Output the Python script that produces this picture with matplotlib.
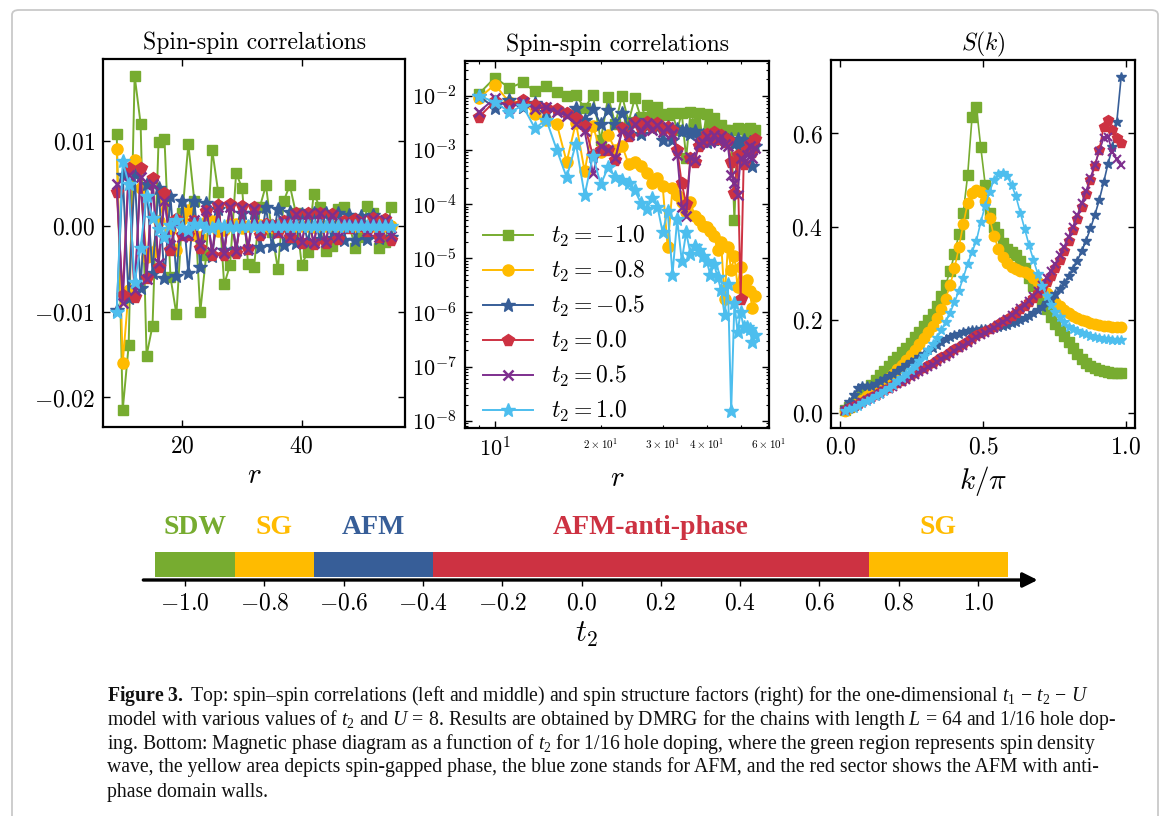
import numpy as np
import matplotlib
matplotlib.use("Agg")
import matplotlib.pyplot as plt
from matplotlib.ticker import LogLocator, NullFormatter, FixedLocator, FuncFormatter
from matplotlib.patches import FancyBboxPatch

plt.rcParams.update({
    "font.family": "serif",
    "font.serif": ["cmr10"],
    "mathtext.fontset": "cm",
    "axes.formatter.use_mathtext": True,
    "mathtext.rm": "Liberation Serif",
    "mathtext.it": "Liberation Serif:italic",
    "mathtext.bf": "Liberation Serif:bold",
})

# ---------------------------------------------------------------- data
t2_labels = [r"$t_2=-1.0$", r"$t_2=-0.8$", r"$t_2=-0.5$",
             r"$t_2=0.0$", r"$t_2=0.5$", r"$t_2=1.0$"]

distance = list(range(9, 56))

corr_m10 = [0.0108, -0.0215, -0.0139, 0.0176, 0.0120, -0.0151, -0.0116, 0.0098,
            0.0102, -0.0059, -0.0103, 0.0015, 0.0096, 0.0030, -0.0100, -0.0033,
            0.0089, 0.0040, -0.0068, -0.0045, 0.0062, 0.0045, -0.0044, -0.0048,
            0.0023, 0.0048, -0.0007, -0.0050, 0.0030, 0.0048, 0.0016, -0.0045,
            -0.0030, 0.0038, 0.0023, -0.0029, -0.0023, 0.0020, 0.0023, -0.00005,
            -0.0025, -0.0012, 0.0024, 0.0015, -0.0025, -0.0018, 0.0023]
corr_m08 = [9.0e-3, -1.6e-2, -7.5e-3, 7.8e-3, 4.5e-3, -3.6e-3, -3.0e-3, 6.0e-4,
            3.2e-3, -4.0e-4, -2.8e-3, 9.0e-4, 1.9e-3, -1.0e-3, -1.2e-3, 5.5e-4,
            6.0e-4, -5.0e-4, -3.8e-4, 2.5e-4, 3.0e-4, -2.2e-4, -1.6e-5, 2.0e-4,
            1.5e-4, -1.1e-4, -7.0e-5, 1.1e-4, 6.0e-5, -5.0e-5, -4.0e-5, 3.7e-5,
            3.2e-5, -2.6e-5, -1.4e-5, 2.0e-5, 1.8e-6, -1.6e-5, -6.0e-6, 1.1e-5,
            3.0e-6, -7.0e-6, -2.5e-6, 4.0e-6, 2.5e-6, -1.2e-6, -2.0e-6]
corr_m05 = [-9.8e-3, 6.0e-3, -8.4e-3, 6.1e-3, -7.2e-3, 5.0e-3, -5.5e-3, 4.5e-3,
            -6.0e-3, 3.5e-3, -5.8e-3, 3.0e-3, -5.5e-3, 3.0e-3, -4.7e-3, 2.7e-3,
            -3.5e-3, 2.0e-3, -2.8e-3, 2.5e-3, -2.7e-3, 1.5e-3, -2.7e-3, 1.5e-3,
            -2.4e-3, 2.2e-3, -2.3e-3, 2.0e-3, -2.2e-3, 1.7e-3, -1.9e-3, 1.4e-3,
            -1.8e-3, 1.6e-3, -1.5e-3, 1.6e-3, -1.4e-3, 1.5e-3, -1.6e-3, 1.3e-3,
            -1.6e-3, 1.2e-3, -1.5e-3, 1.3e-3, -1.4e-3, 5.0e-4, -1.2e-3]
corr_p00 = [4.0e-3, -8.0e-3, 6.8e-3, -8.3e-3, 6.8e-3, -6.0e-3, 5.7e-3, -4.7e-3,
            3.9e-3, -2.8e-3, 8.0e-4, -1.0e-3, -1.0e-3, 6.5e-4, -2.5e-3, 1.8e-3,
            -3.3e-3, 2.5e-3, -3.3e-3, 2.6e-3, -3.1e-3, 2.4e-3, -2.7e-3, 2.3e-3,
            -1.0e-3, 2.4e-4, 1.0e-4, -7.0e-4, 6.0e-4, -1.2e-3, 1.5e-3, -2.0e-3,
            1.6e-3, -2.1e-3, 1.6e-3, -1.9e-3, 1.4e-3, -1.5e-3, 6.0e-4, -1.6e-4,
            8.0e-4, 1.8e-6, -5.5e-4, 1.0e-3, -1.3e-3, 9.0e-4, -1.6e-3]
corr_p05 = [5.0e-3, -9.0e-3, 6.0e-3, -7.5e-3, 5.8e-3, -6.2e-3, 5.0e-3, -4.3e-3,
            3.0e-3, -2.2e-3, 3.7e-4, -1.2e-3, -1.0e-3, 7.0e-4, -2.2e-3, 1.9e-3,
            -3.0e-3, 2.2e-3, -3.1e-3, 2.3e-3, -2.9e-3, 2.1e-3, -2.6e-3, 2.0e-3,
            -8.0e-4, 9.0e-5, 6.0e-5, -7.5e-4, 6.5e-4, -1.3e-3, 1.4e-3, -1.8e-3,
            1.4e-3, -1.9e-3, 1.5e-3, -1.8e-3, 1.3e-3, -1.2e-3, 3.5e-4, -2.5e-4,
            1.5e-4, 7.0e-4, -6.0e-4, 8.0e-4, -1.2e-3, 7.0e-4, -1.1e-3]
corr_p10 = [-1.0e-2, 7.6e-3, 5.0e-3, -6.5e-3, -2.5e-3, 3.6e-3, 1.0e-3, -3.1e-4,
            -1.3e-3, 1.45e-4, 7.8e-4, -2.3e-4, -4.8e-4, 3.2e-4, 2.8e-4, -2.4e-4,
            -1.8e-4, 1.05e-4, 8.0e-5, -1.3e-4, -9.0e-5, 3.0e-5, 7.5e-5, -5.0e-6,
            -5.3e-5, 9.0e-6, 3.0e-5, -1.2e-5, -1.7e-5, 1.4e-5, 1.1e-5, -9.0e-6,
            -5.0e-6, 7.8e-6, 4.5e-6, -2.6e-6, -9.0e-7, 3.4e-6, 1.5e-8, -1.5e-6,
            -4.4e-7, 1.0e-6, 5.4e-7, -5.4e-7, -5.0e-7, 2.8e-7, 3.8e-7]

momentum_index = list(range(1, 65))
sk_m10 = [0.005, 0.012, 0.02, 0.03, 0.04, 0.05, 0.06, 0.07, 0.08, 0.09,
          0.10, 0.11, 0.12, 0.13, 0.14, 0.15, 0.162, 0.174, 0.186, 0.199,
          0.213, 0.23, 0.25, 0.275, 0.305, 0.34, 0.385, 0.43, 0.51, 0.635,
          0.656, 0.57, 0.49, 0.43, 0.40, 0.385, 0.365, 0.352, 0.345, 0.338,
          0.325, 0.31, 0.29, 0.272, 0.255, 0.238, 0.222, 0.205, 0.19, 0.178,
          0.165, 0.152, 0.138, 0.126, 0.115, 0.107, 0.10, 0.095, 0.091, 0.089,
          0.087, 0.086, 0.086, 0.086]
sk_m08 = [0.004, 0.009, 0.015, 0.021, 0.028, 0.035, 0.042, 0.05, 0.058, 0.066,
          0.075, 0.084, 0.093, 0.103, 0.113, 0.124, 0.135, 0.147, 0.16, 0.173,
          0.187, 0.203, 0.222, 0.245, 0.274, 0.31, 0.355, 0.405, 0.45, 0.472,
          0.478, 0.474, 0.455, 0.418, 0.38, 0.352, 0.335, 0.322, 0.314, 0.309,
          0.305, 0.302, 0.298, 0.29, 0.28, 0.27, 0.258, 0.248, 0.238, 0.229,
          0.221, 0.214, 0.208, 0.203, 0.199, 0.196, 0.193, 0.191, 0.189, 0.187,
          0.186, 0.185, 0.185, 0.184]
sk_m05 = [0.01, 0.022, 0.038, 0.052, 0.057, 0.057, 0.058, 0.062, 0.067, 0.072,
          0.078, 0.084, 0.09, 0.096, 0.102, 0.108, 0.114, 0.12, 0.127, 0.134,
          0.14, 0.146, 0.152, 0.158, 0.163, 0.167, 0.17, 0.173, 0.175, 0.177,
          0.178, 0.179, 0.18, 0.181, 0.182, 0.184, 0.186, 0.189, 0.192, 0.195,
          0.199, 0.203, 0.208, 0.214, 0.22, 0.228, 0.236, 0.245, 0.255, 0.266,
          0.279, 0.293, 0.309, 0.327, 0.347, 0.37, 0.396, 0.425, 0.457, 0.495,
          0.535, 0.57, 0.625, 0.722]
sk_p00 = [0.005, 0.009, 0.014, 0.019, 0.024, 0.029, 0.034, 0.038, 0.044, 0.049,
          0.054, 0.059, 0.064, 0.069, 0.075, 0.08, 0.085, 0.091, 0.096, 0.102,
          0.107, 0.113, 0.119, 0.124, 0.13, 0.136, 0.142, 0.148, 0.154, 0.16,
          0.166, 0.172, 0.176, 0.18, 0.185, 0.19, 0.196, 0.202, 0.208, 0.215,
          0.222, 0.23, 0.238, 0.247, 0.257, 0.268, 0.28, 0.294, 0.31, 0.328,
          0.348, 0.37, 0.393, 0.417, 0.442, 0.47, 0.5, 0.53, 0.565, 0.615,
          0.63, 0.608, 0.59, 0.58]
sk_p05 = [0.004, 0.008, 0.012, 0.017, 0.022, 0.027, 0.032, 0.036, 0.041, 0.046,
          0.051, 0.056, 0.061, 0.066, 0.071, 0.076, 0.081, 0.087, 0.092, 0.098,
          0.103, 0.109, 0.115, 0.12, 0.126, 0.132, 0.138, 0.144, 0.15, 0.156,
          0.162, 0.167, 0.172, 0.177, 0.183, 0.189, 0.195, 0.202, 0.209, 0.216,
          0.224, 0.232, 0.241, 0.251, 0.262, 0.275, 0.289, 0.304, 0.32, 0.338,
          0.357, 0.378, 0.4, 0.424, 0.45, 0.477, 0.505, 0.533, 0.562, 0.59,
          0.593, 0.56, 0.545, 0.533]
sk_p10 = [0.003, 0.007, 0.011, 0.015, 0.02, 0.025, 0.03, 0.035, 0.041, 0.047,
          0.053, 0.06, 0.067, 0.075, 0.083, 0.092, 0.101, 0.111, 0.122, 0.134,
          0.147, 0.161, 0.177, 0.195, 0.215, 0.237, 0.262, 0.29, 0.32, 0.345,
          0.37, 0.41, 0.445, 0.475, 0.5, 0.512, 0.516, 0.508, 0.49, 0.465,
          0.43, 0.395, 0.36, 0.328, 0.298, 0.272, 0.25, 0.232, 0.217, 0.205,
          0.195, 0.185, 0.18, 0.176, 0.172, 0.168, 0.165, 0.162, 0.16, 0.159,
          0.158, 0.157, 0.157, 0.157]

phase_bounds = [-1.075, -0.875, -0.675, -0.375, 0.725, 1.075]
phase_names = ["SDW", "SG", "AFM", "AFM-anti-phase", "SG"]
phase_ticks = [-1.0, -0.8, -0.6, -0.4, -0.2, 0.0, 0.2, 0.4, 0.6, 0.8, 1.0]

# ---------------------------------------------------------------- styles
GREEN, YELLOW, BLUE = "#77AC30", "#FFBB00", "#375E98"
RED, PURPLE, CYAN = "#CD3242", "#7E2F8E", "#4DBEEE"
series_colors = [GREEN, YELLOW, BLUE, RED, PURPLE, CYAN]
series_markers = ["s", "o", "*", "p", "x", "*"]
big_ms = [7.5, 8, 10, 8.5, 7, 10]
small_ms = [6.5, 7.5, 7.5, 7, 6, 7.5]
corr_series = [corr_m10, corr_m08, corr_m05, corr_p00, corr_p05, corr_p10]
sk_series = [sk_m10, sk_m08, sk_m05, sk_p00, sk_p05, sk_p10]
phase_colors = [GREEN, YELLOW, BLUE, RED, YELLOW]

W, H = 1170, 816
fig = plt.figure(figsize=(W / 100, H / 100), dpi=100)
fig.patch.set_facecolor("white")


def px_axes(x0, y0, x1, y1):
    return fig.add_axes([x0 / W, 1 - y1 / H, (x1 - x0) / W, (y1 - y0) / H])


def style_axes(ax, size):
    for s in ax.spines.values():
        s.set_linewidth(1.6)
    ax.tick_params(which="both", direction="in", top=True, right=True)
    ax.tick_params(which="major", length=5, width=1.0, labelsize=size, pad=6)
    ax.tick_params(which="minor", length=2.5, width=0.8)


ax1 = px_axes(103, 59, 405, 427)
ax2 = px_axes(465, 61, 769, 428)
ax3 = px_axes(831, 60, 1135, 428)

for vals, c, m, ms in zip(corr_series, series_colors, series_markers, big_ms):
    mew = 1.8 if m == "x" else 1.0
    ax1.plot(distance, vals, color=c, marker=m, ms=ms, mew=mew, lw=1.4)

for vals, c, m, ms, lab in zip(corr_series, series_colors, series_markers,
                                big_ms, t2_labels):
    mew = 1.8 if m == "x" else 1.0
    ax2.plot(distance, np.abs(vals), color=c, marker=m, ms=ms, mew=mew,
             lw=1.4, label=lab)

k_over_pi = np.array(momentum_index) / 65.0
for vals, c, m, ms in zip(sk_series, series_colors, series_markers, small_ms):
    mew = 1.5 if m == "x" else 1.0
    ax3.plot(k_over_pi, vals, color=c, marker=m, ms=ms, mew=mew, lw=1.2)

# left panel
style_axes(ax1, 17)
ax1.set_xticks([20, 40])
ax1.set_yticks([-0.02, -0.01, 0.0, 0.01])
ax1.yaxis.set_major_formatter(FuncFormatter(lambda v, p: "$%.2f$" % v if abs(v) > 1e-12 else "$0.00$"))
ax1.xaxis.set_major_formatter(FuncFormatter(lambda v, p: "$%d$" % v))
ax1.set_title("Spin-spin correlations", fontsize=17, pad=7)
ax1.set_xlabel(r"$r$", fontsize=21, labelpad=4)

# middle panel
ax2.set_xscale("log")
ax2.set_yscale("log")
style_axes(ax2, 16)
ax2.yaxis.set_major_locator(LogLocator(base=10, numticks=20))
ax2.yaxis.set_minor_locator(LogLocator(base=10, subs=np.arange(2, 10), numticks=20))
ax2.yaxis.set_minor_formatter(NullFormatter())
ax2.tick_params(axis="x", which="minor", labelsize=8, pad=6)
ax2.set_title("Spin-spin correlations", fontsize=17, pad=7)
ax2.set_xlabel(r"$r$", fontsize=21, labelpad=4)
ax2.legend(loc="upper left", bbox_to_anchor=(0.06, 0.555), frameon=False,
           fontsize=17, handlelength=2.1, handletextpad=0.75, labelspacing=0.42,
           borderpad=0, borderaxespad=0, numpoints=1)

# right panel
style_axes(ax3, 17)
ax3.set_xticks([0.0, 0.5, 1.0])
ax3.set_yticks([0.0, 0.2, 0.4, 0.6])
ax3.xaxis.set_major_formatter(FuncFormatter(lambda v, p: "$%.1f$" % v))
ax3.yaxis.set_major_formatter(FuncFormatter(lambda v, p: "$%.1f$" % v))
ax3.set_title(r"$S(k)$", fontsize=17, pad=7)
ax3.set_xlabel(r"$k/\pi$", fontsize=21, labelpad=4)

# ---------------------------------------------------------------- phase diagram
axp = px_axes(133, 500, 1040, 580)
axp.set_xlim(-1.131, 1.156)
axp.set_ylim(0, 1)
for s in axp.spines.values():
    s.set_visible(False)
axp.set_yticks([])
for lo, hi, col in zip(phase_bounds[:-1], phase_bounds[1:], phase_colors):
    axp.barh(0.19, hi - lo, left=lo, height=0.31, color=col, linewidth=0)
for lo, hi, col, name in zip(phase_bounds[:-1], phase_bounds[1:], phase_colors, phase_names):
    axp.text((lo + hi) / 2, 0.66, name, color=col, ha="center", va="center",
             fontsize=20, fontweight="bold", family="Liberation Serif")
axp.annotate("", xy=(1.15, 0), xytext=(-1.105, 0),
             arrowprops=dict(arrowstyle="-|>", color="black", lw=2.4,
                             mutation_scale=22, shrinkA=0, shrinkB=0),
             annotation_clip=False)
axp.xaxis.set_major_locator(FixedLocator(phase_ticks))
axp.xaxis.set_major_formatter(FuncFormatter(lambda v, p: "$%.1f$" % (0.0 if abs(v) < 1e-9 else v)))
axp.tick_params(axis="x", direction="out", length=4, width=1.0, labelsize=17, pad=5)
axp.set_xlabel(r"$t_2$", fontsize=22, labelpad=4)

# ---------------------------------------------------------------- caption
caption_lines = [
    r"$\mathbf{Figure\ 3.}$ Top: spin–spin correlations (left and middle) and spin structure factors (right) for the one-dimensional $t_1\,-\,t_2\,-\,U$",
    r"model with various values of $t_2$ and $U\,=\,8$. Results are obtained by DMRG for the chains with length $L\,=\,64$ and $1/16$ hole dop-",
    r"ing. Bottom: Magnetic phase diagram as a function of $t_2$ for $1/16$ hole doping, where the green region represents spin density",
    r"wave, the yellow area depicts spin-gapped phase, the blue zone stands for AFM, and the red sector shows the AFM with anti-",
    r"phase domain walls.",
]
caption_y = [692, 717, 741, 765, 790]
for line, yy in zip(caption_lines, caption_y):
    fig.text(107 / W, 1 - yy / H, line, ha="left", va="center_baseline",
             fontsize=14.2, family="Liberation Serif", math_fontfamily="custom",
             color="#111111")

frame = FancyBboxPatch((12 / W, -0.05), (1158 - 12) / W, 1.05 - 10 / H,
                       boxstyle="round,pad=0,rounding_size=0.006",
                       transform=fig.transFigure, facecolor="none",
                       edgecolor="#c9c9c9", linewidth=1.3)
fig.patches.append(frame)

fig.savefig("out.png", dpi=100)
